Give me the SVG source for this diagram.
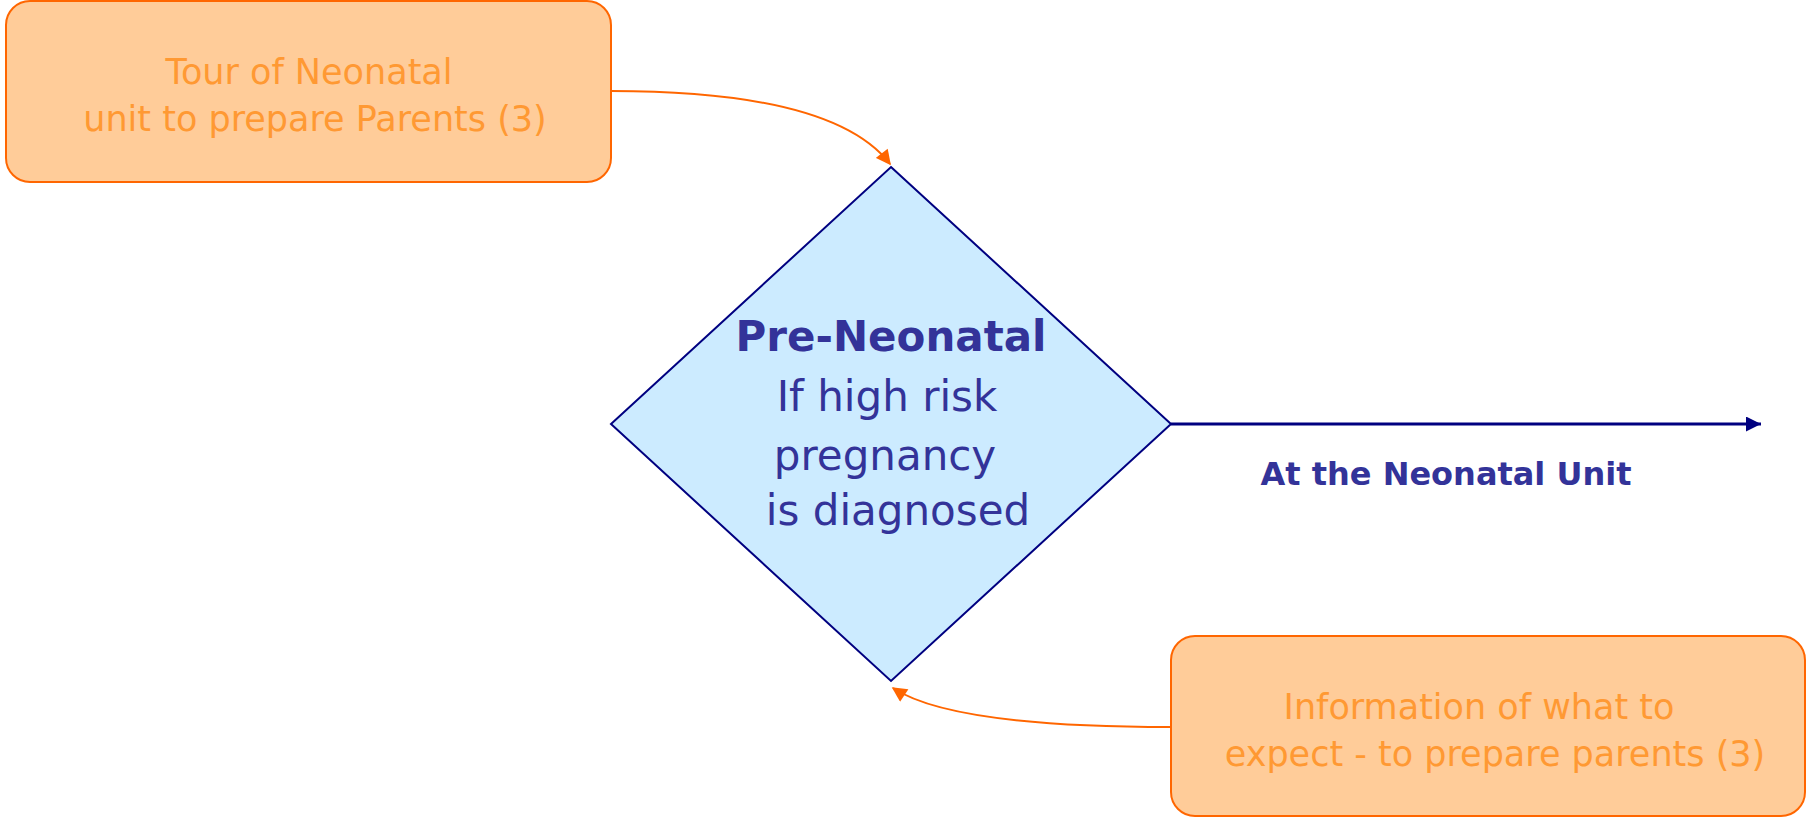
<svg xmlns="http://www.w3.org/2000/svg" width="1808" height="817" viewBox="0 0 1808 817">
<style>
.box{fill:#FFCC99;stroke:#FF6600;stroke-width:2}
.boxtxt{fill:#FF9933;font-family:"DejaVu Sans",sans-serif;font-size:35px;text-anchor:middle}
.dtxt{fill:#333399;font-family:"DejaVu Sans",sans-serif;font-size:42px;text-anchor:middle}
.bold{font-weight:bold}
.oconn{fill:none;stroke:#FF6600;stroke-width:2}
.nconn{fill:none;stroke:#000080;stroke-width:3}
</style>
<defs>
<marker id="oarrow" viewBox="0 0 10 10" refX="9" refY="5" markerWidth="17" markerHeight="15" orient="auto" markerUnits="userSpaceOnUse">
<path d="M0,0 L10,5 L0,10 Z" fill="#FF6600"/>
</marker>
<marker id="narrow" viewBox="0 0 10 10" refX="10" refY="5" markerWidth="17" markerHeight="15" orient="auto" markerUnits="userSpaceOnUse">
<path d="M0,0 L10,5 L0,10 Z" fill="#000080"/>
</marker>
</defs>
<g id="connectors">
<path class="oconn" d="M611,91 C750,91 850,112 890,164" marker-end="url(#oarrow)"/>
<path class="oconn" d="M1171,727 C1040,727 935,716 893,688" marker-end="url(#oarrow)"/>
<path class="nconn" d="M1171,424 L1761,424" marker-end="url(#narrow)"/>
</g>
<g id="tour">
<rect class="box" x="6" y="1" width="605" height="181" rx="24"/>
<text class="boxtxt" x="309" y="84">Tour of Neonatal</text>
<text class="boxtxt" x="315" y="131">unit to prepare Parents (3)</text>
</g>
<g id="decision">
<polygon points="891,167 1171,424 891,681 611,424" fill="#CCEBFF" stroke="#000080" stroke-width="2"/>
<text class="dtxt bold" x="891" y="351">Pre-Neonatal</text>
<text class="dtxt" x="887" y="411">If high risk</text>
<text class="dtxt" x="885" y="470">pregnancy</text>
<text class="dtxt" x="898" y="525">is diagnosed</text>
</g>
<g id="label-unit">
<text class="dtxt bold" style="font-size:32px" x="1446" y="485">At the Neonatal Unit</text>
</g>
<g id="information">
<rect class="box" x="1171" y="636" width="634" height="180" rx="24"/>
<text class="boxtxt" x="1479" y="719">Information of what to</text>
<text class="boxtxt" x="1495" y="766">expect - to prepare parents (3)</text>
</g>
</svg>
